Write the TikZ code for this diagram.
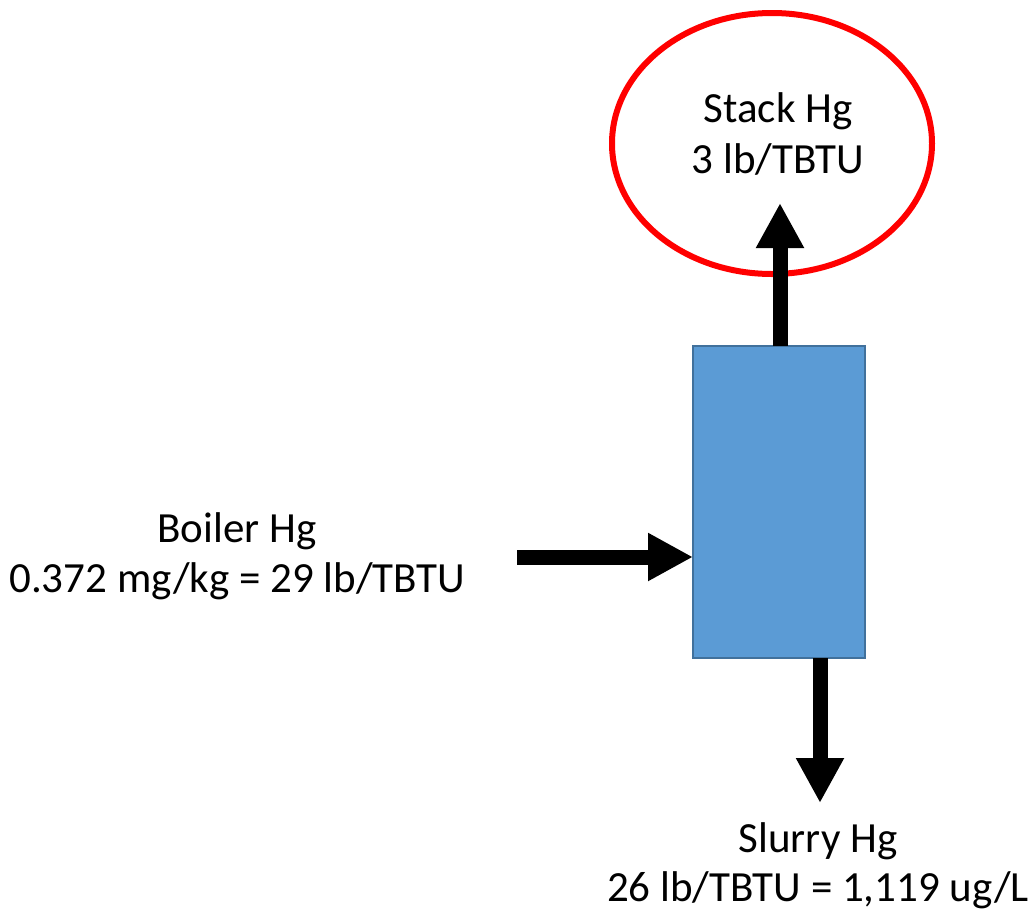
\documentclass[tikz,border=0pt]{standalone}
\usepackage{fontspec}
\setmainfont{Carlito}
\usetikzlibrary{arrows.meta,shapes.geometric}
\definecolor{boxfill}{HTML}{5B9BD5}
\definecolor{boxline}{HTML}{41719C}
\definecolor{ringred}{HTML}{FF0000}
\begin{document}
\begin{tikzpicture}[x=1pt,y=-1pt,
  lbl/.style={anchor=base,inner sep=0pt,font=\fontsize{43}{51}\selectfont},
  flow/.style={line width=15pt,-{Triangle[width=45pt,length=45pt]}},
  unit/.style={draw=boxline,fill=boxfill,line width=2.5pt,rectangle,minimum width=172pt,minimum height=312pt,inner sep=0pt,outer sep=0pt},
  ring/.style={draw=ringred,line width=6pt,ellipse,minimum width=320pt,minimum height=261pt,inner sep=0pt,outer sep=0pt}]
\useasboundingbox (0,0) rectangle (1034,911);
\fill[white] (0,0) rectangle (1034,911);
\node[unit] (box) at (779,502) {};
\node[ring] (stack) at (772,143.5) {};
\node[lbl] (stackA) at (778,122) {Stack Hg};
\node[lbl] (stackB) at (778,173) {3 lb/TBTU};
\node[lbl] (boilA) at (237,542) {Boiler Hg};
\node[lbl] (boilB) at (237,592) {0.372 mg/kg = 29 lb/TBTU};
\node[lbl] (slurA) at (818,852) {Slurry Hg};
\node[lbl] (slurB) at (818,901) {26 lb/TBTU = 1,119 ug/L};
\coordinate (stacktip) at (780,203);
\coordinate (boilstart) at (517,557);
\coordinate (slurrytip) at (820,803);
\draw[flow] (box.north -| stacktip) -- (stacktip);
\draw[flow] (boilstart) -- (boilstart -| box.west);
\draw[flow] (box.south -| slurrytip) -- (slurrytip);
\end{tikzpicture}
\end{document}
